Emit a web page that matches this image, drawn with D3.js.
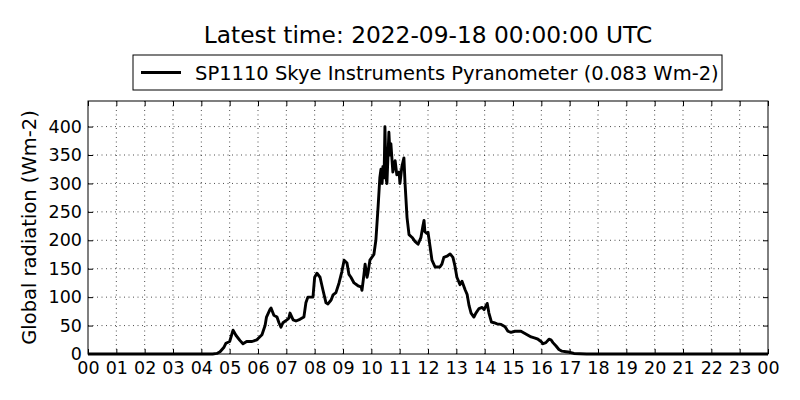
<!DOCTYPE html>
<html>
<head>
<meta charset="utf-8">
<script src="https://cdn.jsdelivr.net/npm/d3@7"></script>
<style>
  body { margin: 0; background: #fff; }
  text { font-family: "DejaVu Sans", sans-serif; fill: #000; }
</style>
</head>
<body>
<div id="chart"></div>
<script>
// Hour of day (UTC) and global radiation (Wm-2)
const hours = [0, 4.4, 4.55, 4.66, 4.8, 4.87, 5.0, 5.12, 5.22, 5.36, 5.47, 5.6, 5.79, 5.96,
  6.14, 6.25, 6.3, 6.42, 6.46, 6.56, 6.67, 6.74, 6.81, 6.88, 7.02, 7.09, 7.13, 7.24, 7.34,
  7.48, 7.62, 7.69, 7.76, 7.87, 7.94, 8.0, 8.08, 8.19, 8.29, 8.4, 8.47, 8.58, 8.65, 8.75,
  8.86, 8.96, 9.04, 9.14, 9.21, 9.28, 9.39, 9.53, 9.64, 9.67, 9.74, 9.78, 9.85, 9.88, 9.95,
  10.09, 10.16, 10.24, 10.3, 10.34, 10.38, 10.41, 10.45, 10.48, 10.52, 10.55, 10.62, 10.66,
  10.69, 10.76, 10.84, 10.9, 10.98, 11.01, 11.08, 11.15, 11.19, 11.26, 11.33, 11.44, 11.54,
  11.65, 11.75, 11.82, 11.86, 11.89, 11.96, 12.0, 12.07, 12.14, 12.25, 12.42, 12.49, 12.56,
  12.67, 12.78, 12.88, 12.95, 13.02, 13.13, 13.2, 13.31, 13.38, 13.45, 13.52, 13.62, 13.69,
  13.8, 13.91, 13.98, 14.09, 14.15, 14.24, 14.33, 14.44, 14.58, 14.72, 14.82, 14.93, 15.07,
  15.28, 15.39, 15.53, 15.64, 15.78, 15.88, 15.99, 16.06, 16.16, 16.27, 16.34, 16.41, 16.52,
  16.62, 16.73, 16.87, 17.01, 17.15, 17.36, 17.6, 24];
const radiation = [0, 0, 1, 4, 12, 19, 22, 42, 33, 24, 18, 22, 22, 25,
  34, 50, 65, 78, 81, 68, 65, 55, 47, 55, 60, 63, 72, 60, 58,
  61, 65, 90, 100, 100, 100, 135, 142, 135, 113, 90, 88, 95, 104, 108,
  125, 145, 165, 160, 140, 135, 125, 120, 118, 112, 140, 158, 135, 142, 165,
  175, 200, 260, 310, 325, 300, 330, 310, 400, 310, 300, 390, 350,
  370, 320, 340, 315, 320, 300, 330, 345, 300, 240, 210, 205, 198,
  193, 205, 225, 235, 215, 212, 214, 190, 165, 153, 153, 158, 170,
  172, 176, 170, 155, 135, 122, 128, 113, 105, 85, 72, 65, 72,
  80, 82, 78, 89, 72, 56, 55, 53, 52, 48, 40, 38, 40,
  40, 37, 33, 30, 28, 26, 22, 18, 20, 26, 25, 20, 14,
  8, 5, 4, 3, 1, 0.5, 0, 0];
const yTicks = [0, 50, 100, 150, 200, 250, 300, 350, 400];
const xTicks = d3.range(0, 25);
const titleText = "Latest time: 2022-09-18 00:00:00 UTC";
const seriesName = "SP1110 Skye Instruments Pyranometer (0.083 Wm-2)";
const yLabel = "Global radiation (Wm-2)";

const W = 800, H = 400;
const margin = { top: 101, right: 32, bottom: 46, left: 88 };
const width = W - margin.left - margin.right;
const height = H - margin.top - margin.bottom;
const labelSize = "19.5px";
const tickSize = "17.5px";

const svg = d3.select("#chart").append("svg")
    .attr("width", W)
    .attr("height", H);

const g = svg.append("g")
    .attr("transform", `translate(${margin.left},${margin.top})`);

const x = d3.scaleLinear().domain([0, 24]).range([0, width]);
const y = d3.scaleLinear().domain([0, 445]).range([height, 0]);

// dotted grid
g.append("g").selectAll("line")
    .data(xTicks.slice(1, -1))
    .join("line")
    .attr("x1", d => x(d)).attr("x2", d => x(d))
    .attr("y1", 0).attr("y2", height)
    .attr("stroke", "#000").attr("stroke-width", 0.7)
    .attr("stroke-dasharray", "1,3.5");

g.append("g").selectAll("line")
    .data(yTicks.slice(1))
    .join("line")
    .attr("x1", 0).attr("x2", width)
    .attr("y1", d => y(d)).attr("y2", d => y(d))
    .attr("stroke", "#000").attr("stroke-width", 0.7)
    .attr("stroke-dasharray", "1,3.5");

// data line
const line = d3.line()
    .x((d, i) => x(hours[i]))
    .y(d => y(d));

g.append("path")
    .datum(radiation)
    .attr("fill", "none")
    .attr("stroke", "#000")
    .attr("stroke-width", 2.9)
    .attr("stroke-linejoin", "round")
    .attr("d", line);

// axes, ticks pointing inward on all four sides
const fmt = d => String(d % 24).padStart(2, "0");
const tickLen = 5;

const xBottom = g.append("g")
    .attr("transform", `translate(0,${height})`)
    .call(d3.axisBottom(x).tickValues(xTicks).tickFormat(fmt).tickSizeInner(-tickLen).tickSizeOuter(0).tickPadding(8));
const xTop = g.append("g")
    .call(d3.axisTop(x).tickValues(xTicks).tickFormat("").tickSizeInner(-tickLen).tickSizeOuter(0));
const yLeft = g.append("g")
    .call(d3.axisLeft(y).tickValues(yTicks).tickSizeInner(-tickLen).tickSizeOuter(0).tickPadding(6));
const yRight = g.append("g")
    .attr("transform", `translate(${width},0)`)
    .call(d3.axisRight(y).tickValues(yTicks).tickFormat("").tickSizeInner(-tickLen).tickSizeOuter(0));

[xBottom, xTop, yLeft, yRight].forEach(a => {
    a.select(".domain").remove();
    a.selectAll("line").attr("stroke", "#000");
    a.selectAll("text")
        .attr("font-size", tickSize)
        .style("font-family", "'DejaVu Sans', sans-serif");
});

// frame
g.append("rect")
    .attr("width", width).attr("height", height)
    .attr("fill", "none").attr("stroke", "#000").attr("stroke-width", 1);

// y label
svg.append("text")
    .attr("transform", `translate(36,${margin.top + height / 2}) rotate(-90)`)
    .attr("text-anchor", "middle")
    .attr("font-size", labelSize)
    .text(yLabel);

// title
svg.append("text")
    .attr("x", margin.left + width / 2)
    .attr("y", 43)
    .attr("text-anchor", "middle")
    .attr("font-size", "23.3px")
    .text(titleText);

// legend
const legend = svg.append("g").attr("transform", "translate(133,55)");
legend.append("rect")
    .attr("width", 589).attr("height", 35)
    .attr("fill", "#fff").attr("stroke", "#000").attr("stroke-width", 1);
legend.append("line")
    .attr("x1", 8).attr("x2", 48)
    .attr("y1", 17.5).attr("y2", 17.5)
    .attr("stroke", "#000").attr("stroke-width", 2.9);
legend.append("text")
    .attr("x", 62).attr("y", 24.5)
    .attr("font-size", labelSize)
    .text(seriesName);
</script>
</body>
</html>
